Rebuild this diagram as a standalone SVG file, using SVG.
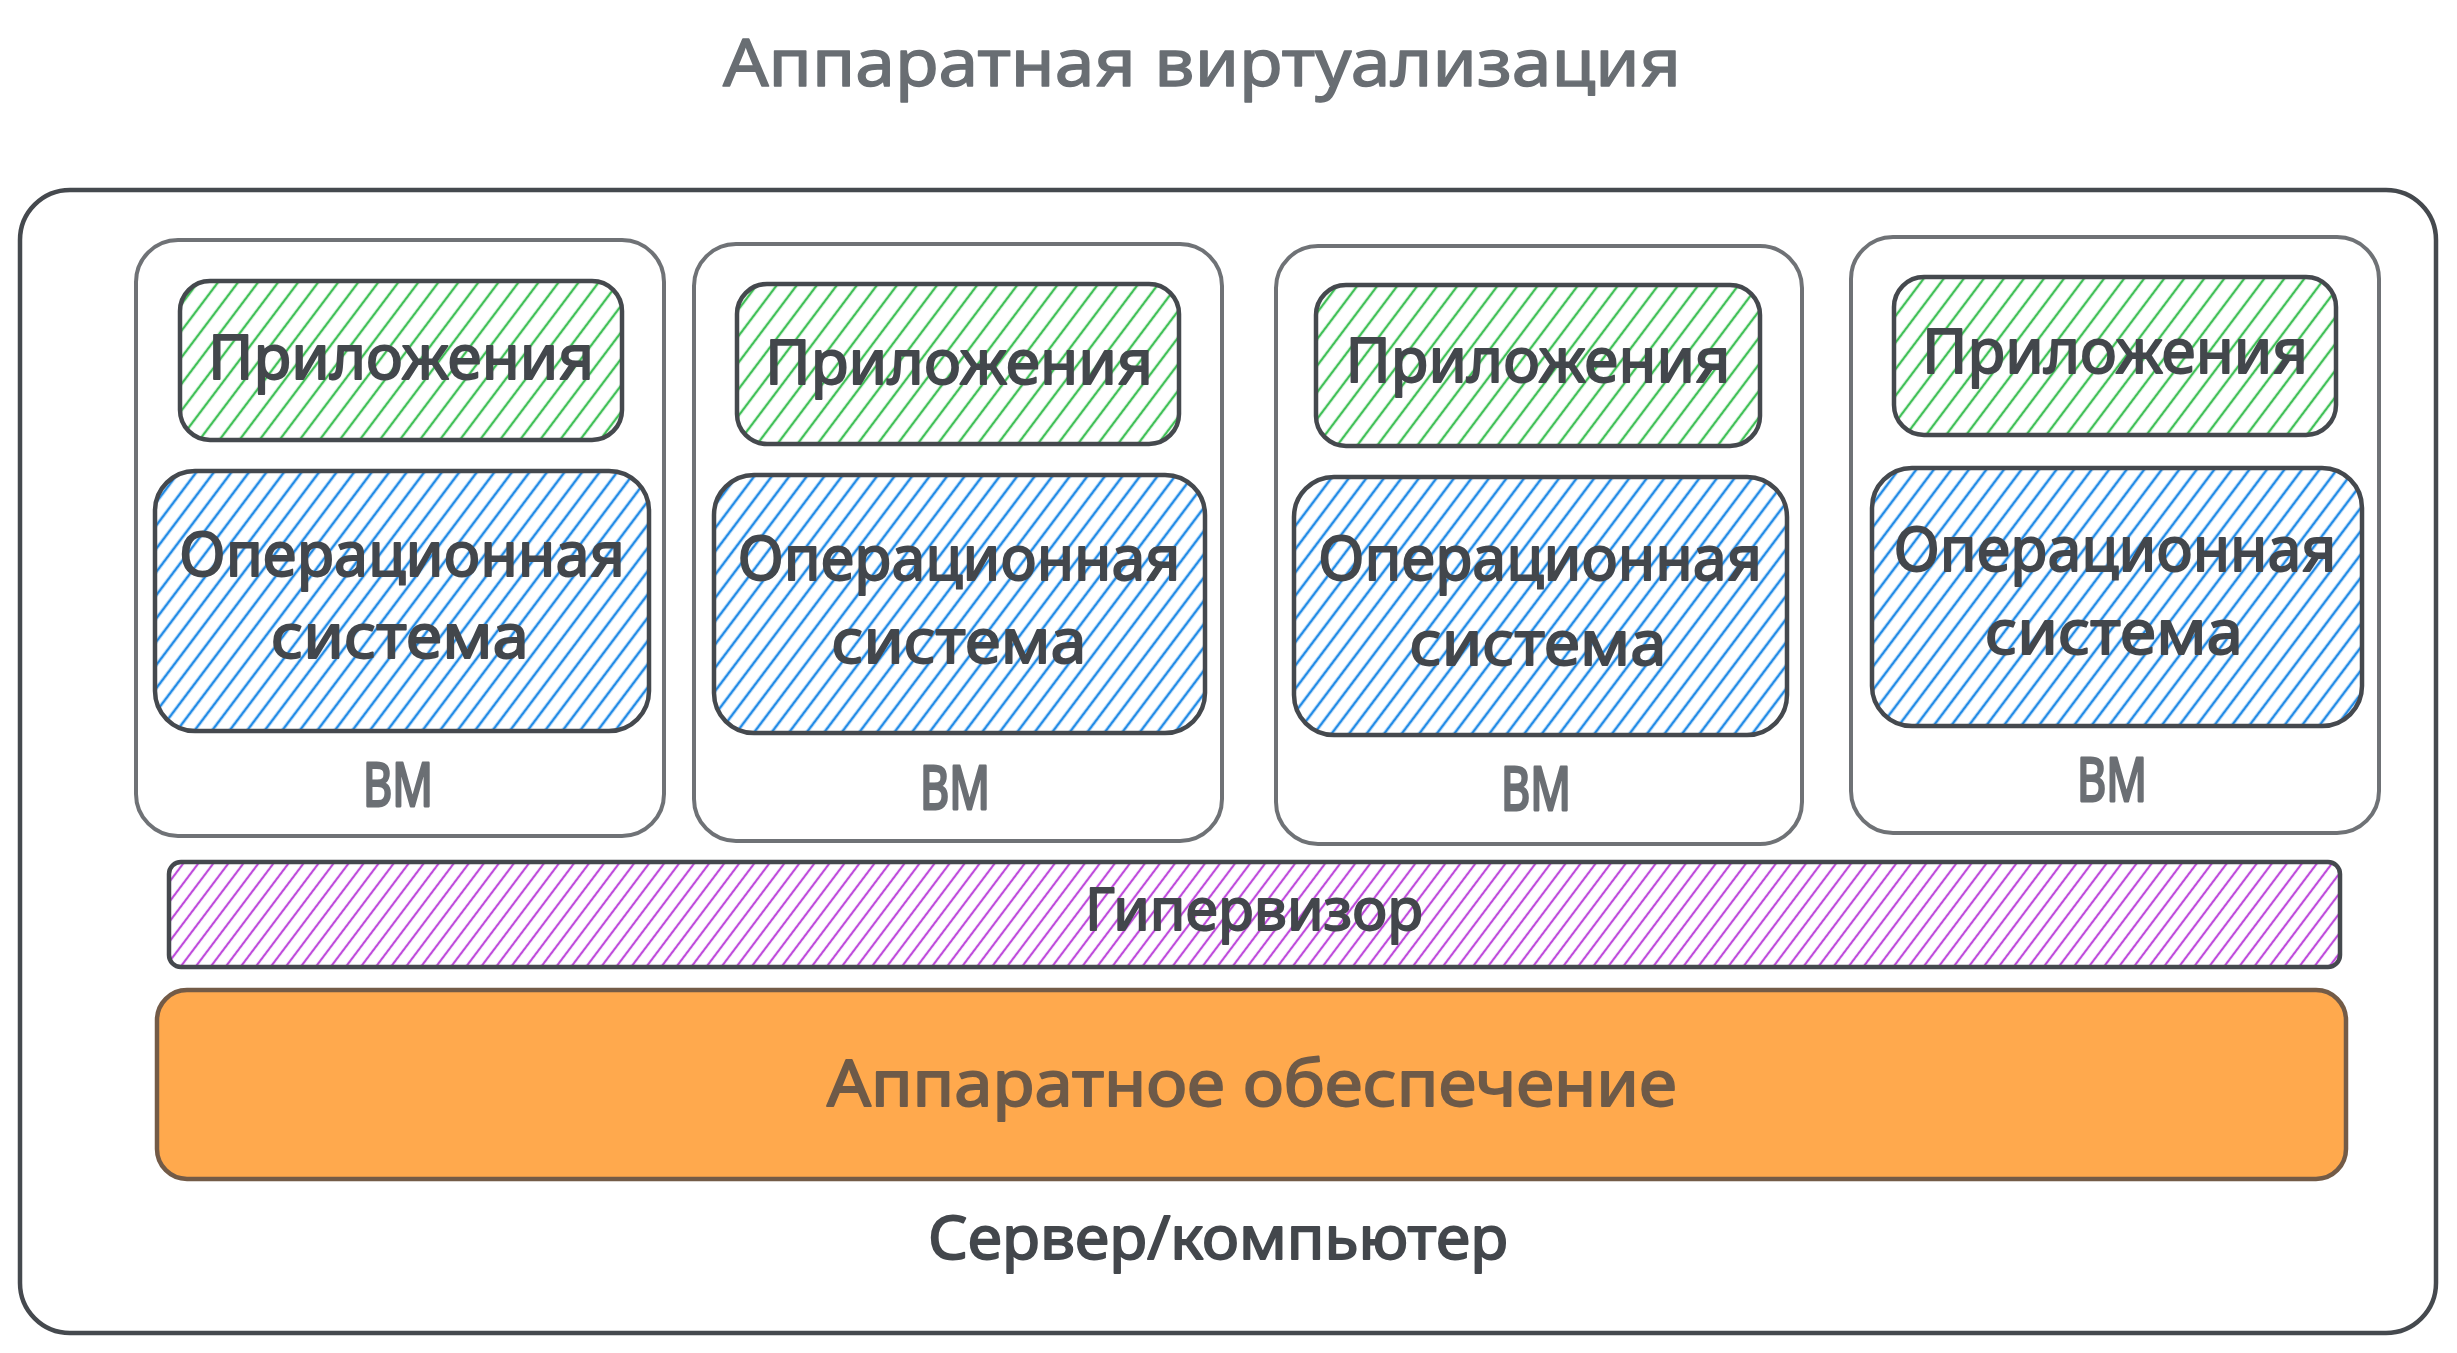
<svg xmlns="http://www.w3.org/2000/svg" width="2457" height="1353" viewBox="0 0 2457 1353">
  <defs>
    <pattern id="hatchGreen" patternUnits="userSpaceOnUse" width="16" height="16" patternTransform="rotate(37)">
      <line x1="8" y1="0" x2="8" y2="16" stroke="#40c057" stroke-width="2.4"/>
    </pattern>
    <pattern id="hatchBlue" patternUnits="userSpaceOnUse" width="14" height="14" patternTransform="rotate(37)">
      <line x1="7" y1="0" x2="7" y2="14" stroke="#228be6" stroke-width="2.6"/>
    </pattern>
    <pattern id="hatchViolet" patternUnits="userSpaceOnUse" width="12" height="12" patternTransform="rotate(37)">
      <line x1="6" y1="0" x2="6" y2="12" stroke="#be4bdb" stroke-width="2.2"/>
    </pattern>
  </defs>
  <style>
    .txt { font-family: "Noto Sans", "DejaVu Sans", sans-serif; text-anchor: middle; stroke-linejoin: round; }
    .dark { fill: #43474c; stroke: #43474c; stroke-width: 1.8; }
    .gray { fill: #6b6f74; stroke: #6b6f74; stroke-width: 2.8; }
    .outer { fill: #ffffff; stroke: #45494e; stroke-width: 4.5; }
    .vm { fill: none; stroke: #6f7276; stroke-width: 4; }
    .app { fill: url(#hatchGreen); stroke: #45494e; stroke-width: 4.5; }
    .os { fill: url(#hatchBlue); stroke: #45494e; stroke-width: 4.5; }
    .hyp { fill: url(#hatchViolet); stroke: #45494e; stroke-width: 4.5; }
    .hw { fill: #ffa94d; stroke: #735b47; stroke-width: 4.5; }
  </style>
  <rect width="2457" height="1353" fill="#ffffff"/>

  <g id="title">
    <text class="txt" x="1202" y="86" font-size="66" fill="#696e73" stroke="#696e73" stroke-width="1.4" textLength="958" lengthAdjust="spacingAndGlyphs">Аппаратная виртуализация</text>
  </g>

  <g id="server">
    <rect class="outer" x="20" y="190" width="2416" height="1143" rx="50" ry="50"/>
    <text class="txt dark" x="1218" y="1259" font-size="60" textLength="580" lengthAdjust="spacingAndGlyphs">Сервер/компьютер</text>
  </g>

  <g id="vm1">
    <rect class="vm" x="136" y="240" width="528" height="596" rx="42" ry="42"/>
    <text class="txt gray" x="398" y="806" font-size="60" textLength="70" lengthAdjust="spacingAndGlyphs">ВМ</text>
    <g id="vm1-apps">
      <rect class="app" x="180" y="281" width="442" height="159" rx="30" ry="30"/>
      <text class="txt dark" x="401" y="379" font-size="62" textLength="386" lengthAdjust="spacingAndGlyphs">Приложения</text>
    </g>
    <g id="vm1-os">
      <rect class="os" x="155" y="471" width="494" height="260" rx="40" ry="40"/>
      <text class="txt dark" x="402" y="576" font-size="62" textLength="446" lengthAdjust="spacingAndGlyphs">Операционная</text>
      <text class="txt dark" x="400" y="658" font-size="62" textLength="258" lengthAdjust="spacingAndGlyphs">система</text>
    </g>
  </g>

  <g id="vm2">
    <rect class="vm" x="694" y="244" width="528" height="597" rx="42" ry="42"/>
    <text class="txt gray" x="955" y="809" font-size="60" textLength="70" lengthAdjust="spacingAndGlyphs">ВМ</text>
    <g id="vm2-apps">
      <rect class="app" x="737" y="284" width="442" height="160" rx="30" ry="30"/>
      <text class="txt dark" x="959" y="384" font-size="62" textLength="388" lengthAdjust="spacingAndGlyphs">Приложения</text>
    </g>
    <g id="vm2-os">
      <rect class="os" x="714" y="475" width="491" height="258" rx="40" ry="40"/>
      <text class="txt dark" x="959" y="580" font-size="62" textLength="443" lengthAdjust="spacingAndGlyphs">Операционная</text>
      <text class="txt dark" x="959" y="663" font-size="62" textLength="255" lengthAdjust="spacingAndGlyphs">система</text>
    </g>
  </g>

  <g id="vm3">
    <rect class="vm" x="1276" y="246" width="526" height="598" rx="42" ry="42"/>
    <text class="txt gray" x="1536" y="810" font-size="60" textLength="70" lengthAdjust="spacingAndGlyphs">ВМ</text>
    <g id="vm3-apps">
      <rect class="app" x="1316" y="285" width="444" height="161" rx="30" ry="30"/>
      <text class="txt dark" x="1538" y="382" font-size="62" textLength="385" lengthAdjust="spacingAndGlyphs">Приложения</text>
    </g>
    <g id="vm3-os">
      <rect class="os" x="1294" y="477" width="493" height="258" rx="40" ry="40"/>
      <text class="txt dark" x="1540" y="580" font-size="62" textLength="444" lengthAdjust="spacingAndGlyphs">Операционная</text>
      <text class="txt dark" x="1538" y="665" font-size="62" textLength="257" lengthAdjust="spacingAndGlyphs">система</text>
    </g>
  </g>

  <g id="vm4">
    <rect class="vm" x="1851" y="237" width="528" height="596" rx="42" ry="42"/>
    <text class="txt gray" x="2112" y="801" font-size="60" textLength="70" lengthAdjust="spacingAndGlyphs">ВМ</text>
    <g id="vm4-apps">
      <rect class="app" x="1894" y="277" width="442" height="158" rx="30" ry="30"/>
      <text class="txt dark" x="2115" y="373" font-size="62" textLength="386" lengthAdjust="spacingAndGlyphs">Приложения</text>
    </g>
    <g id="vm4-os">
      <rect class="os" x="1872" y="468" width="490" height="258" rx="40" ry="40"/>
      <text class="txt dark" x="2115" y="571" font-size="62" textLength="443" lengthAdjust="spacingAndGlyphs">Операционная</text>
      <text class="txt dark" x="2114" y="654" font-size="62" textLength="258" lengthAdjust="spacingAndGlyphs">система</text>
    </g>
  </g>

  <g id="hypervisor">
    <rect class="hyp" x="169" y="862" width="2171" height="105" rx="12" ry="12"/>
    <text class="txt dark" x="1254" y="930" font-size="58" textLength="338" lengthAdjust="spacingAndGlyphs">Гипервизор</text>
  </g>

  <g id="hardware">
    <rect class="hw" x="157" y="990" width="2189" height="189" rx="30" ry="30"/>
    <text class="txt" x="1252" y="1106" font-size="64" fill="#6e5a48" stroke="#6e5a48" stroke-width="1.8" textLength="850" lengthAdjust="spacingAndGlyphs">Аппаратное обеспечение</text>
  </g>

  <g id="connectors"></g>
</svg>
